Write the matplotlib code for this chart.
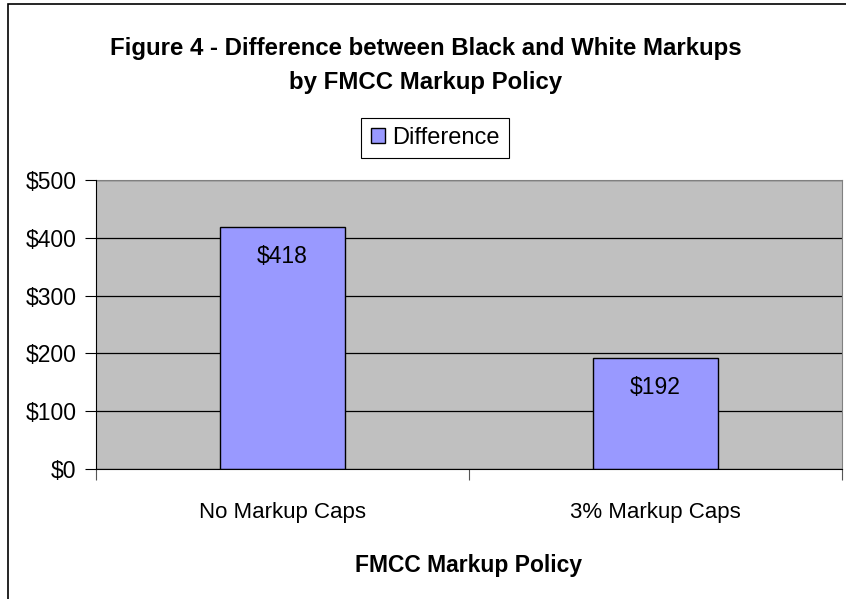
import matplotlib.pyplot as plt
from matplotlib.patches import Rectangle
from matplotlib.ticker import FuncFormatter
import numpy as np

plt.rcParams['font.family'] = ['Liberation Sans', 'DejaVu Sans']

categories = ['No Markup Caps', '3% Markup Caps']
difference = [418, 192]
yticks = [0, 100, 200, 300, 400, 500]

W, H = 846, 599
fig = plt.figure(figsize=(W / 100, H / 100), dpi=100)

# outer chart frame (only left/top visible in the original)
fig.patches.append(Rectangle((8 / W, -0.1), 1.2, 1 - 4 / H + 0.1,
                             transform=fig.transFigure, fill=False,
                             edgecolor='black', linewidth=1.2))

ax = fig.add_axes([96 / W, (H - 469) / H, (842 - 96) / W, (469 - 180) / H])
ax.set_facecolor('#C0C0C0')

x = np.arange(len(categories))
bars = ax.bar(x, difference, width=0.335, color='#9999FF', edgecolor='black',
              linewidth=1.0, zorder=3, label='Difference')
ax.set_xlim(-0.5, 1.5)
ax.set_ylim(0, 500)
ax.set_yticks(yticks)
ax.yaxis.set_major_formatter(FuncFormatter(lambda v, p: '${:,.0f}'.format(v)))
ax.grid(axis='y', color='black', linewidth=0.9, zorder=1)

ax.set_xticks([-0.5, 0.5, 1.5])
ax.set_xticklabels([])
ax.set_xticks(x, minor=True)
ax.set_xticklabels(categories, minor=True, fontsize=16)
ax.tick_params(axis='x', which='minor', length=0, pad=24)
ax.tick_params(axis='x', which='major', length=8, width=0.8, color='#555555')
ax.tick_params(axis='y', length=8, width=0.8, labelsize=16.5, pad=6)

for s in ['top', 'right']:
    ax.spines[s].set_color('#808080')
for s in ['left', 'bottom']:
    ax.spines[s].set_color('black')
    ax.spines[s].set_zorder(4)

for b, v in zip(bars, difference):
    ax.annotate('${}'.format(v), (b.get_x() + b.get_width() / 2, v),
                xytext=(0, -29), textcoords='offset pixels',
                ha='center', va='center', fontsize=16.5, zorder=5)

ax.set_xlabel('FMCC Markup Policy', fontsize=16.5, fontweight='bold', labelpad=22)

fig.text(0.5 + 3 / W, 1 - 48 / H, 'Figure 4 - Difference between Black and White Markups',
         ha='center', va='center', fontsize=17.3, fontweight='bold')
fig.text(0.5 + 3 / W, 1 - 82 / H, 'by FMCC Markup Policy',
         ha='center', va='center', fontsize=17.3, fontweight='bold')

leg = ax.legend(loc='center', bbox_to_anchor=(435 / W, 1 - 138 / H),
                bbox_transform=fig.transFigure, fontsize=17, frameon=True,
                fancybox=False, edgecolor='black', framealpha=1,
                handlelength=0.6, handleheight=0.6, handletextpad=0.3,
                borderpad=0.4, borderaxespad=0)
leg.get_frame().set_linewidth(0.8)

fig.savefig('out.png', dpi=100, facecolor='white')
